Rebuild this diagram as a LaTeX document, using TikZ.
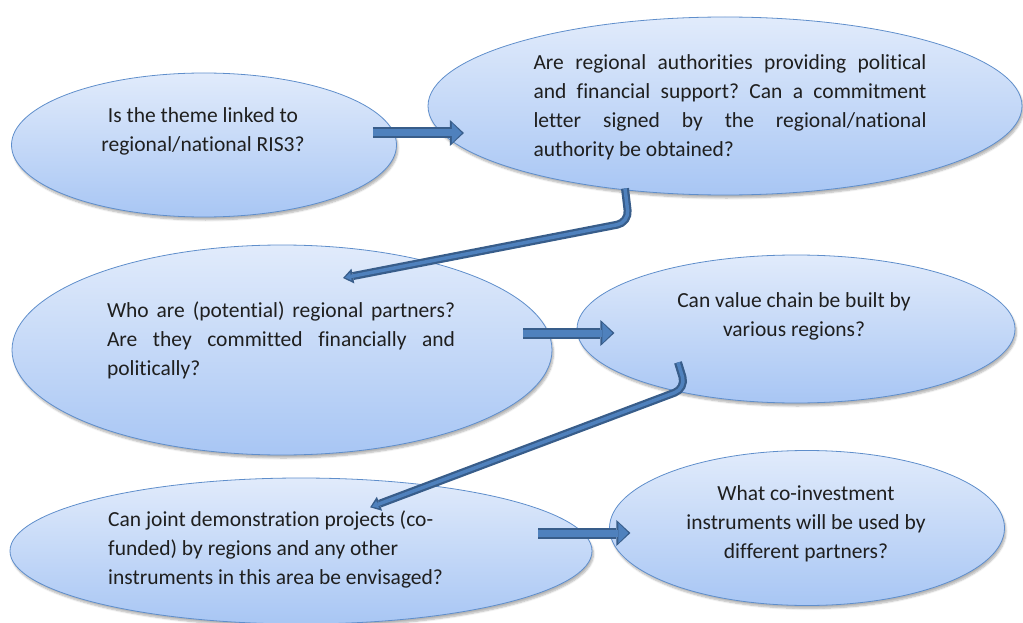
\documentclass[tikz,border=0pt]{standalone}
\usepackage{fontspec}
\setmainfont{Carlito}[Ligatures=NoCommon]
\usetikzlibrary{arrows.meta,calc,shapes.geometric,shadows.blur}
\definecolor{bubbletop}{HTML}{E1EBFB}
\definecolor{bubblebot}{HTML}{A8C6F4}
\definecolor{bubbleline}{HTML}{5F8ECB}
\definecolor{arrowmid}{HTML}{4F81BD}
\definecolor{arrowdark}{HTML}{385D8A}
\frenchspacing

\begin{document}
\begin{tikzpicture}[x=1pt,y=-1pt,
    bubble/.style={ellipse,draw=bubbleline,line width=0.8pt,top color=bubbletop,bottom color=bubblebot,
      inner sep=0pt,blur shadow={shadow xshift=1.5pt,shadow yshift=-3pt,shadow opacity=30,shadow blur steps=6}},
    qtext/.style={font=\fontsize{21.5}{29}\selectfont,text=black!88,inner sep=0pt},
    fat/.style={line width=7pt,draw=arrowmid,-{Triangle[width=20pt,length=10pt,line width=0pt]},
      preaction={draw=arrowdark,line width=11pt,-{Triangle[width=26pt,length=14pt,line width=0pt]},shorten >=-2pt}},
    bent/.style={line width=3.5pt,draw=arrowmid,rounded corners=12pt,-{Triangle[width=8pt,length=6pt,line width=0pt]},
      preaction={draw=arrowdark,line width=8pt,-{Triangle[width=15pt,length=10pt,line width=0pt]},shorten >=-2pt}}]
  \useasboundingbox (0,0) rectangle (1023,623);

  % question bubbles
  \node[bubble,minimum width=385pt,minimum height=144pt] (q1) at (204,145) {};
  \node[bubble,minimum width=594pt,minimum height=178pt] (q2) at (725,106) {};
  \node[bubble,minimum width=540pt,minimum height=210pt] (q3) at (282,350) {};
  \node[bubble,minimum width=438pt,minimum height=148pt] (q4) at (796,329) {};
  \node[bubble,minimum width=582pt,minimum height=146pt] (q5) at (301,551) {};
  \node[bubble,minimum width=395pt,minimum height=155pt] (q6) at (807,528) {};

  \node[qtext,align=center] (t1) at (203,131) {Is the theme linked to\\regional/national RIS3?};
  \node[qtext,text width=393pt,align=justify] (t2) at (730,107) {Are regional authorities providing political\linebreak
    and financial support? Can a commitment\linebreak letter signed by the regional/national\linebreak
    authority be obtained?};
  \node[qtext,text width=348pt,align=justify] (t3) at (281,340) {Who are (potential) regional partners?\linebreak
    Are they committed financially and\linebreak politically?};
  \node[qtext,align=center] (t4) at (794,316) {Can value chain be built by\\various regions?};
  \node[qtext,align=left,anchor=west] (t5) at (108,549) {Can joint demonstration projects (co-\\
    funded) by regions and any other\\instruments in this area be envisaged?};
  \node[qtext,align=center] (t6) at (806,524) {What co-investment\\instruments will be used by\\different partners?};

  % arrows between the questions
  \draw[fat] ($(q1.east)+(-24,-12)$) -- ++(89,0);
  \draw[fat] ($(q3.east)+(-29,-17)$) -- ++(89,0);
  \draw[fat] ($(q5.east)+(-54,-18)$) -- ++(90,0);
  \draw[bent] ($(q2.south)+(-100,-7)$) -- ++(4,34) -- ($(q3.north)+(63,33)$);
  \draw[bent] ($(q4.south)+(-118,-41)$) -- ++(8,26) -- ($(q5.north)+(71,29)$);
\end{tikzpicture}
\end{document}
